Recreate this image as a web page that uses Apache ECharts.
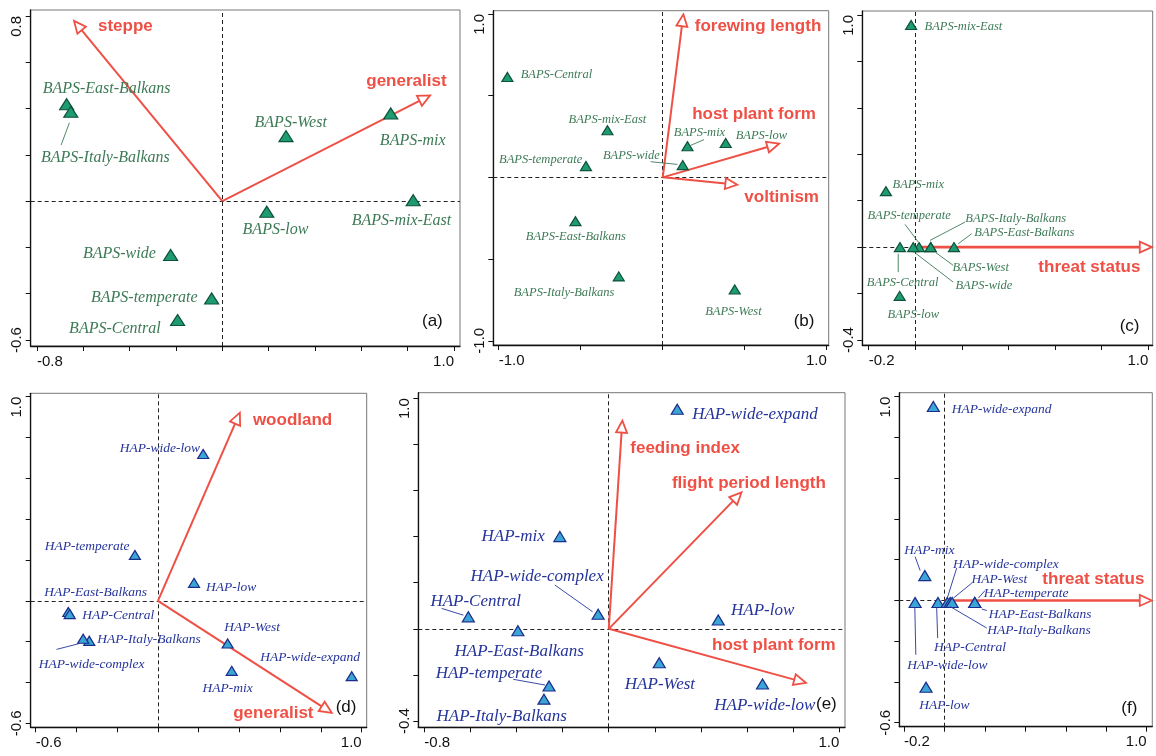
<!DOCTYPE html>
<html>
<head>
<meta charset="utf-8">
<script src="https://cdn.jsdelivr.net/npm/echarts@6/dist/echarts.min.js"></script>
<style>html,body{margin:0;background:#fff}#main{width:1156px;height:756px}</style>
</head>
<body>
<div id="main"></div>
<script>
// (a) BAPS vs ecological traits
var aNames = ['BAPS-East-Balkans','BAPS-Italy-Balkans','BAPS-West','BAPS-mix','BAPS-mix-East','BAPS-low','BAPS-wide','BAPS-temperate','BAPS-Central'];
var aX = [-0.672,-0.654,0.275,0.727,0.824,0.192,-0.223,-0.046,-0.193];
var aY = [0.419,0.386,0.281,0.379,0.004,-0.046,-0.233,-0.421,-0.514];
var aVars = ['steppe','generalist'];
var aVarX = [-0.640,0.897];
var aVarY = [0.779,0.457];
var aTicksX = [-0.8,-0.6,-0.4,-0.2,0,0.2,0.4,0.6,0.8,1.0];
var aTicksY = [-0.6,-0.4,-0.2,0,0.2,0.4,0.6,0.8];

// (b) BAPS vs morphology / life history
var bNames = ['BAPS-Central','BAPS-mix-East','BAPS-temperate','BAPS-East-Balkans','BAPS-Italy-Balkans','BAPS-West','BAPS-mix','BAPS-low','BAPS-wide'];
var bX = [-0.947,-0.337,-0.468,-0.532,-0.268,0.439,0.151,0.384,0.122];
var bY = [0.614,0.288,0.069,-0.268,-0.606,-0.686,0.190,0.210,0.075];
var bVars = ['forewing length','host plant form','voltinism'];
var bVarX = [0.126,0.709,0.455];
var bVarY = [0.998,0.206,-0.045];
var bTicksX = [-1.0,-0.5,0,0.5,1.0];
var bTicksY = [-1.0,-0.5,0,0.5,1.0];

// (c) BAPS vs threat status
var cNames = ['BAPS-mix-East','BAPS-mix','BAPS-Central','BAPS-temperate','BAPS-wide','BAPS-Italy-Balkans','BAPS-West','BAPS-East-Balkans','BAPS-low'];
var cX = [-0.018,-0.126,-0.066,0.016,-0.009,0.066,0.066,0.166,-0.067];
var cY = [0.957,0.241,0,0,0,0,0,0,-0.210];
var cVars = ['threat status'];
var cVarX = [1.015];
var cVarY = [0];
var cTicksX = [-0.2,0,0.2,0.4,0.6,0.8,1.0];
var cTicksY = [-0.4,-0.2,0,0.2,0.4,0.6,0.8,1.0];

// (d) HAP vs ecological traits
var dNames = ['HAP-wide-low','HAP-temperate','HAP-low','HAP-East-Balkans','HAP-Central','HAP-Italy-Balkans','HAP-wide-complex','HAP-West','HAP-mix','HAP-wide-expand'];
var dX = [0.222,-0.113,0.177,-0.440,-0.433,-0.337,-0.367,0.342,0.362,0.951];
var dY = [0.719,0.225,0.088,-0.055,-0.065,-0.196,-0.186,-0.209,-0.343,-0.369];
var dVars = ['woodland','generalist'];
var dVarX = [0.402,0.853];
var dVarY = [0.922,-0.549];
var dTicksX = [-0.6,-0.4,-0.2,0,0.2,0.4,0.6,0.8,1.0];
var dTicksY = [-0.6,-0.4,-0.2,0,0.2,0.4,0.6,0.8,1.0];

// (e) HAP vs morphology / life history
var eNames = ['HAP-wide-expand','HAP-mix','HAP-wide-complex','HAP-Central','HAP-East-Balkans','HAP-low','HAP-West','HAP-temperate','HAP-Italy-Balkans','HAP-wide-low'];
var eX = [0.297,-0.212,-0.046,-0.609,-0.394,0.475,0.219,-0.259,-0.281,0.667];
var eY = [0.952,0.400,0.063,0.052,-0.008,0.038,-0.147,-0.248,-0.305,-0.239];
var eVars = ['feeding index','flight period length','host plant form'];
var eVarX = [0.059,0.576,0.855];
var eVarY = [0.903,0.592,-0.234];
var eTicksX = [-0.8,-0.6,-0.4,-0.2,0,0.2,0.4,0.6,0.8,1.0];
var eTicksY = [-0.4,-0.2,0,0.2,0.4,0.6,0.8,1.0];

// (f) HAP vs threat status
var fNames = ['HAP-wide-expand','HAP-mix','HAP-wide-low','HAP-Central','HAP-wide-complex','HAP-Italy-Balkans','HAP-West','HAP-temperate','HAP-East-Balkans','HAP-low'];
var fX = [-0.055,-0.097,-0.145,-0.032,0.014,0.028,0.038,0.150,0.150,-0.091];
var fY = [0.952,0.122,-0.01,-0.01,-0.01,-0.01,-0.01,-0.01,-0.01,-0.426];
var fVars = ['threat status'];
var fVarX = [1.025];
var fVarY = [0];
var fTicksX = [-0.2,0,0.2,0.4,0.6,0.8,1.0];
var fTicksY = [-0.6,-0.4,-0.2,0,0.2,0.4,0.6,0.8,1.0];

var RED = '#ef5046';
var GREEN = {fill:'#1f9b72', border:'#0e523a', text:'#3d7a56'};
var BLUE = {fill:'#3ba6d6', border:'#1b2d8a', text:'#25349b'};

// layout: label offsets (px from point), leader lines [sx,sy,ex,ey], arrow label offsets
var panels = [
  {tag:'(a)', names:aNames, x:aX, y:aY, vars:aVars, vx:aVarX, vy:aVarY, xt:aTicksX, yt:aTicksY,
   xr:[-0.827,1.026], yr:[-0.626,0.826], box:[30.7,10,429.3,336], col:GREEN, fs:16, sym:[14,11], aw:2, tagPos:[-14,-23],
   lab:{'BAPS-East-Balkans':[40,-15.7],'BAPS-Italy-Balkans':[34.6,45.6],'BAPS-West':[4.7,-13],'BAPS-mix':[22,27.3],
        'BAPS-mix-East':[-11.7,20.7],'BAPS-low':[8.7,17.7],'BAPS-wide':[-51.3,-1],'BAPS-temperate':[-67.3,-0.7],'BAPS-Central':[-62.7,9]},
   lead:{'BAPS-Italy-Balkans':[-1.4,11,-9.7,33.3]},
   vlab:{'steppe':[51.3,5.3],'generalist':[-23.7,-14.3]}},
  {tag:'(b)', names:bNames, x:bX, y:bY, vars:bVars, vx:bVarX, vy:bVarY, xt:bTicksX, yt:bTicksY,
   xr:[-1.033,1.012], yr:[-1.026,1.02], box:[493.3,10.7,335.4,334.3], col:GREEN, fs:12.5, sym:[11,9], aw:2, tagPos:[-11,-22],
   lab:{'BAPS-Central':[49,-2.7],'BAPS-mix-East':[0,-11],'BAPS-temperate':[-45.3,-6.7],'BAPS-East-Balkans':[0.3,16],
        'BAPS-Italy-Balkans':[-54.7,16.7],'BAPS-West':[-1.3,22.3],'BAPS-mix':[12,-14],'BAPS-low':[35.7,-7.7],'BAPS-wide':[-51.3,-9]},
   lead:{'BAPS-mix':[3.3,-1,16.6,-6.7],'BAPS-wide':[-5.3,-0.7,-32,-3.4]},
   vlab:{'forewing length':[74.6,12],'host plant form':[-25,-29],'voltinism':[44.3,12.4]}},
  {tag:'(c)', names:cNames, x:cX, y:cY, vars:cVars, vx:cVarX, vy:cVarY, xt:cTicksX, yt:cTicksY,
   xr:[-0.2275,1.019], yr:[-0.4216,1.017], box:[862.3,11,290.4,334], col:GREEN, fs:12.5, sym:[11,9], aw:2.6, tagPos:[-9,-17],
   lab:{'BAPS-mix-East':[52.3,1.7],'BAPS-mix':[32.3,-6.7],'BAPS-Central':[2.7,36],'BAPS-temperate':[-10,-31],'BAPS-wide':[70.7,38.3],
        'BAPS-Italy-Balkans':[85,-28.4],'BAPS-West':[50,20.6],'BAPS-East-Balkans':[70.3,-14],'BAPS-low':[13.6,18.6]},
   lead:{'BAPS-temperate':[-0.7,-5,-14,-22.7],'BAPS-Italy-Balkans':[-0.7,-6.7,34.3,-25],'BAPS-East-Balkans':[4.3,-3.4,17.7,-13.4],
         'BAPS-West':[5.3,5.6,22.6,18.3],'BAPS-wide':[1.7,5.6,40,35],'BAPS-Central':[-1.7,6.6,-1.7,25]},
   vlab:{'threat status':[-62.4,19.7]}},
  {tag:'(d)', names:dNames, x:dX, y:dY, vars:dVars, vx:dVarX, vy:dVarY, xt:dTicksX, yt:dTicksY,
   xr:[-0.6245,1.0245], yr:[-0.6196,1.0167], box:[30.7,393.3,336,334], col:BLUE, fs:13.5, sym:[11,9], aw:2, tagPos:[-7,-18],
   lab:{'HAP-wide-low':[-43.3,-5.7],'HAP-temperate':[-47.7,-8],'HAP-low':[37,5],'HAP-East-Balkans':[27.4,-19.7],'HAP-Central':[48.6,1],
        'HAP-Italy-Balkans':[59.7,-1.4],'HAP-wide-complex':[8.4,25.3],'HAP-West':[24.6,-15.6],'HAP-mix':[-4,17.6],'HAP-wide-expand':[-41.7,-18.7]},
   lead:{'HAP-wide-complex':[-3.3,4.6,-26.6,10.6]},
   vlab:{'woodland':[52.7,7.3],'generalist':[-58.4,0]}},
  {tag:'(e)', names:eNames, x:eX, y:eY, vars:eVars, vx:eVarX, vy:eVarY, xt:eTicksX, yt:eTicksY,
   xr:[-0.826,1.0247], yr:[-0.427,1.024], box:[418.3,392.7,426.7,334.6], col:BLUE, fs:17, sym:[12,10], aw:2, tagPos:[-5,-21],
   lab:{'HAP-wide-expand':[77.7,5],'HAP-mix':[-46.7,0],'HAP-wide-complex':[-61,-37.6],'HAP-Central':[7.4,-15.7],'HAP-East-Balkans':[1.3,21],
        'HAP-low':[44.4,-10],'HAP-West':[0.7,21.6],'HAP-temperate':[-60,-12.7],'HAP-Italy-Balkans':[-42.3,17],'HAP-wide-low':[2.3,22]},
   lead:{'HAP-wide-complex':[-5.6,-2.6,-43.3,-29.3],'HAP-Central':[-5,-1.7,-26.6,-8.4],'HAP-temperate':[-4,-1,-35.7,-6.7]},
   vlab:{'feeding index':[62.7,27.6],'flight period length':[7.3,-9],'host plant form':[-32,-37.7]}},
  {tag:'(f)', names:fNames, x:fX, y:fY, vars:fVars, vx:fVarX, vy:fVarY, xt:fTicksX, yt:fTicksY,
   xr:[-0.2232,1.0277], yr:[-0.6196,1.0196], box:[899.3,392.7,253,334], col:BLUE, fs:13.5, sym:[12,10], aw:2.6, tagPos:[-7,-17],
   lab:{'HAP-wide-expand':[68.4,3.3],'HAP-mix':[4.6,-25],'HAP-wide-low':[32.3,63.3],'HAP-Central':[32,45],'HAP-wide-complex':[58.7,-38.4],
        'HAP-Italy-Balkans':[89,28.3],'HAP-West':[47.3,-23.4],'HAP-temperate':[51.3,-8.7],'HAP-East-Balkans':[65.3,12.3],'HAP-low':[18.3,18.7]},
   lead:{'HAP-mix':[-4.7,-5,-9.7,-19],'HAP-wide-complex':[0,-4.4,9.4,-34.4],'HAP-West':[1.3,-4.4,19.7,-19.4],'HAP-temperate':[3.6,-4.4,10.3,-12],
         'HAP-East-Balkans':[7,6.6,12,8],'HAP-Italy-Balkans':[0,4,36.7,25.6],'HAP-Central':[-1.3,4.6,-0.3,35.6],'HAP-wide-low':[-0.3,4.6,0.7,52.3]},
   vlab:{'threat status':[-58.4,-20.7]}}
];

var chart = echarts.init(document.getElementById('main'), null, {renderer:'canvas'});
var grids = [], xAxes = [], yAxes = [], series = [], graphics = [];

function fmt(v){ return v.toFixed(1); }

panels.forEach(function(P, i){
  var b = P.box;
  grids.push({left:b[0], top:b[1], width:b[2], height:b[3], show:true, borderColor:'#777', borderWidth:1, containLabel:false});
  var xt = P.xt, yt = P.yt;
  xAxes.push({gridIndex:i, type:'value', min:P.xr[0], max:P.xr[1],
    axisLine:{show:true, onZero:false, lineStyle:{color:'#111', width:1.3}},
    axisTick:{show:true, length:5, customValues:xt, lineStyle:{color:'#111'}},
    axisLabel:{show:true, customValues:[xt[0], xt[xt.length-1]], formatter:fmt, fontSize:15, color:'#111', margin:8,
      fontFamily:'Liberation Sans', alignMinLabel:'left', alignMaxLabel:'right'},
    splitLine:{show:false}});
  yAxes.push({gridIndex:i, type:'value', min:P.yr[0], max:P.yr[1],
    axisLine:{show:true, onZero:false, lineStyle:{color:'#111', width:1.3}},
    axisTick:{show:true, length:5, customValues:yt, lineStyle:{color:'#111'}},
    axisLabel:{show:true, customValues:[yt[0], yt[yt.length-1]], formatter:fmt, fontSize:15, color:'#111', margin:6, rotate:90,
      fontFamily:'Liberation Sans', alignMaxLabel:'right'},
    splitLine:{show:false}});

  var pts = P.names.map(function(n, k){ return [P.x[k], P.y[k], n]; });
  var arr = P.vars.map(function(n, k){ return [P.vx[k], P.vy[k], n]; });

  // zero lines + triangles
  series.push({type:'scatter', xAxisIndex:i, yAxisIndex:i, z:4, data:pts, symbol:'triangle', symbolSize:P.sym,
    itemStyle:{color:P.col.fill, borderColor:P.col.border, borderWidth:1.2, opacity:1},
    silent:true, animation:false,
    markLine:{silent:true, symbol:'none', label:{show:false}, z:1,
      lineStyle:{color:'#222', type:[4,3], width:1},
      data:[{xAxis:0},{yAxis:0}]}});

  // red arrows
  series.push({type:'custom', xAxisIndex:i, yAxisIndex:i, z:3, data:arr, silent:true, animation:false,
    renderItem:function(params, api){
      var p0 = api.coord([0,0]);
      var p1 = api.coord([api.value(0), api.value(1)]);
      var dx = p1[0]-p0[0], dy = p1[1]-p0[1];
      var len = Math.sqrt(dx*dx+dy*dy), ux = dx/len, uy = dy/len;
      var hl = 12, hw = 5.5;
      var bx = p1[0]-ux*hl, by = p1[1]-uy*hl;
      var name = P.vars[params.dataIndex];
      var o = P.vlab[name];
      return {type:'group', children:[
        {type:'line', shape:{x1:p0[0], y1:p0[1], x2:bx, y2:by}, style:{stroke:RED, lineWidth:P.aw}},
        {type:'polygon', shape:{points:[[p1[0],p1[1]],[bx-uy*hw,by+ux*hw],[bx+uy*hw,by-ux*hw]]},
         style:{fill:'#fff', stroke:RED, lineWidth:1.8}},
        {type:'text', style:{x:p1[0]+o[0], y:p1[1]+o[1], text:name, fill:RED,
          font:'bold 17px "Liberation Sans", Arial, sans-serif', align:'center', verticalAlign:'middle'}}
      ]};
    }});

  // italic point labels with leader lines
  series.push({type:'custom', xAxisIndex:i, yAxisIndex:i, z:5, data:pts, silent:true, animation:false,
    renderItem:function(params, api){
      var p = api.coord([api.value(0), api.value(1)]);
      var name = P.names[params.dataIndex];
      var o = P.lab[name];
      var kids = [{type:'text', style:{x:p[0]+o[0], y:p[1]+o[1], text:name, fill:P.col.text,
        font:'italic ' + P.fs + 'px "Liberation Serif", "Times New Roman", serif', align:'center', verticalAlign:'middle'}}];
      var l = P.lead[name];
      if (l) kids.push({type:'line', shape:{x1:p[0]+l[0], y1:p[1]+l[1], x2:p[0]+l[2], y2:p[1]+l[3]},
        style:{stroke:P.col.text, lineWidth:0.9}});
      return {type:'group', children:kids};
    }});

  graphics.push({type:'text', left:b[0]+b[2]+P.tagPos[0]-24, top:b[1]+b[3]+P.tagPos[1]-10,
    style:{text:P.tag, fill:'#111', font:'17px "Liberation Sans", Arial, sans-serif'}});
});

chart.setOption({
  animation:false,
  backgroundColor:'#fff',
  grid:grids, xAxis:xAxes, yAxis:yAxes, series:series, graphic:graphics
});
</script>
</body>
</html>
